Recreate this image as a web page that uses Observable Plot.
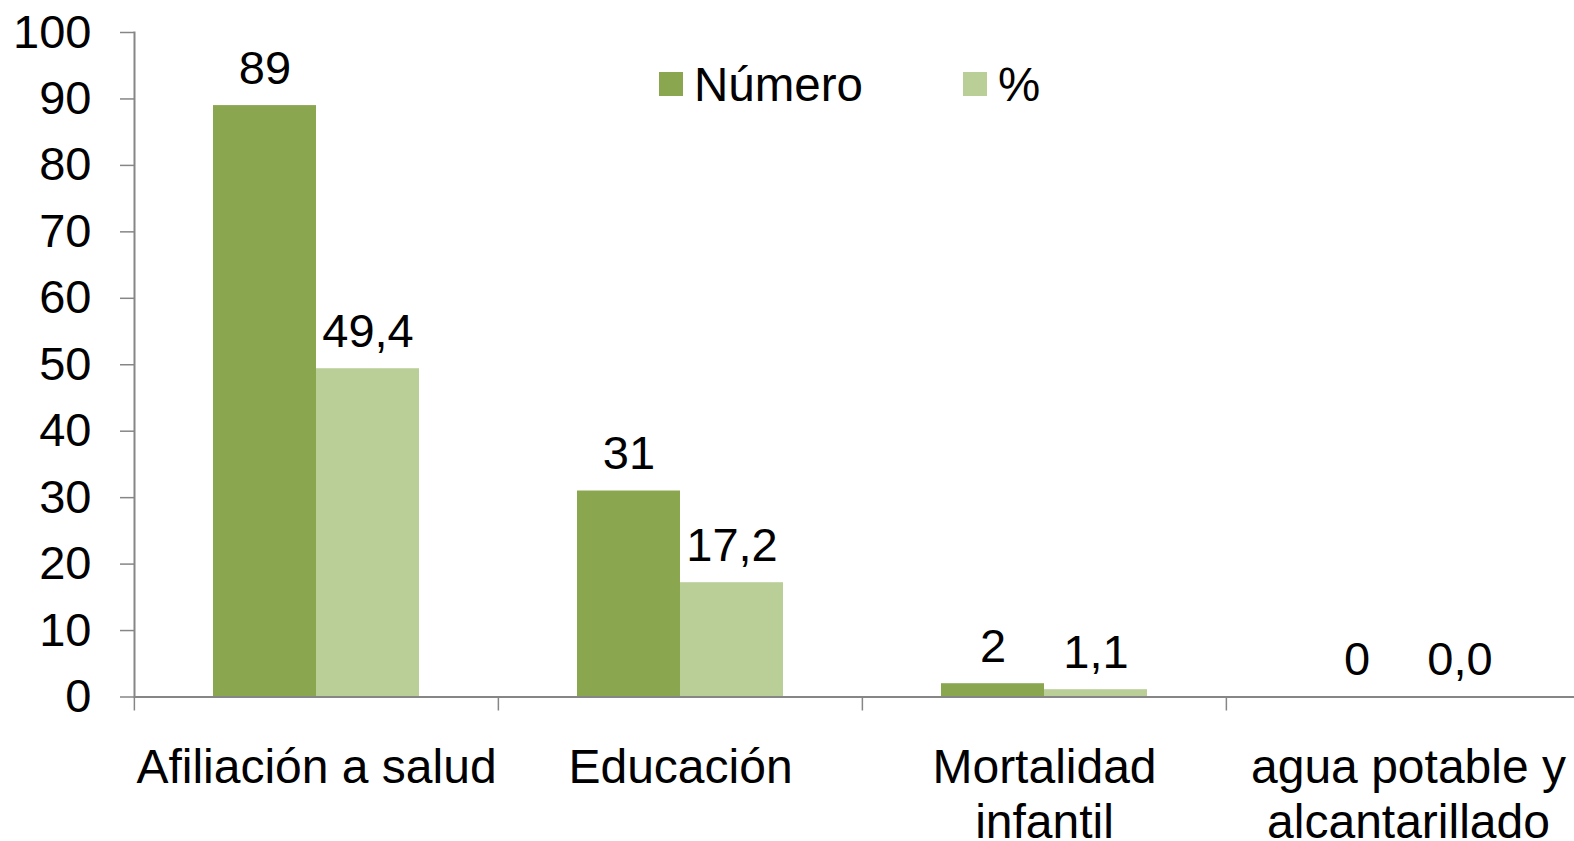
<!DOCTYPE html>
<html>
<head>
<meta charset="utf-8">
<script src="https://cdn.jsdelivr.net/npm/d3@7"></script>
<script src="https://cdn.jsdelivr.net/npm/@observablehq/plot@0.6"></script>
<style>
  html, body { margin: 0; padding: 0; background: #fff; overflow: hidden; }
  #wrap { position: relative; width: 1574px; height: 841px; font-family: "Liberation Sans", Arial, sans-serif; }
  #legend { position: absolute; top: 59px; left: 0; width: 1574px; height: 50px; font-size: 47.5px; color: #000; }
  .item { position: absolute; top: 0; display: flex; align-items: center; height: 50px; }
  .sw { width: 24px; height: 24px; margin-right: 11px; }
</style>
</head>
<body>
<div id="wrap"><div id="legend"></div></div>
<script>
// ---- data ----
const categories = ["Afiliación a salud", "Educación", "Mortalidad infantil", "agua potable y alcantarillado"];
const categoryLabels = ["Afiliación a salud", "Educación", "Mortalidad\ninfantil", "agua potable y\nalcantarillado"];
const series = ["Número", "%"];
const numero = [89, 31, 2, 0];
const porcentaje = [49.4, 17.2, 1.1, 0.0];
const yTicks = [0, 10, 20, 30, 40, 50, 60, 70, 80, 90, 100];
const colors = ["#8AA64F", "#BACF97"];

// ---- build table ----
const rows = categories.flatMap((c, i) => [
  {cat: c, serie: series[0], value: numero[i], label: String(numero[i])},
  {cat: c, serie: series[1], value: porcentaje[i], label: porcentaje[i].toFixed(1).replace(".", ",")}
]);

const W = 1574, H = 841;
const left = 133, rightEdge = 1590;
const halfBand = (rightEdge - left) / categories.length / 2;
const gray = "#868686";
const fs = 47;

const chart = Plot.plot({
  width: W, height: H,
  marginTop: 32, marginBottom: 144.5, marginLeft: left, marginRight: 0,
  style: {fontFamily: "'Liberation Sans', Arial, sans-serif", fontSize: fs + "px", color: "#000", background: "transparent"},
  fx: {domain: categories, range: [left, rightEdge], padding: 0, label: null},
  x: {domain: series, paddingInner: 0, paddingOuter: 0.76, axis: null},
  y: {domain: [0, 100], label: null},
  color: {domain: series, range: colors},
  marks: [
    Plot.barY(rows, {fx: "cat", x: "serie", y: "value", fill: "serie"}),
    Plot.ruleY([0], {stroke: gray, strokeWidth: 2}),
    Plot.frame({anchor: "left", facetAnchor: "left", stroke: gray, strokeWidth: 2}),
    Plot.axisY({ticks: yTicks, tickSize: 14, tickPadding: 29, stroke: gray, strokeWidth: 1.5, fill: "#000", fontSize: fs, label: null}),
    Plot.axisFx({anchor: "bottom", tickSize: 14, dx: -halfBand, stroke: gray, strokeWidth: 1.5, tickFormat: () => "", label: null}),
    Plot.axisFx({anchor: "bottom", tickSize: 0, tickPadding: 47, lineHeight: 1.15, fontSize: 48, fill: "#000",
      tickFormat: c => categoryLabels[categories.indexOf(c)], label: null}),
    Plot.text(rows, {fx: "cat", x: "serie", y: "value", text: "label", dy: -37, fontSize: fs, fill: "#000"})
  ]
});
document.getElementById("wrap").prepend(chart);

// ---- legend ----
const legend = document.getElementById("legend");
const legendX = [659, 963];
series.forEach((s, i) => {
  const it = document.createElement("div");
  it.className = "item";
  it.style.left = legendX[i] + "px";
  it.innerHTML = `<div class="sw" style="background:${colors[i]}"></div><span>${s}</span>`;
  legend.appendChild(it);
});
</script>
</body>
</html>
